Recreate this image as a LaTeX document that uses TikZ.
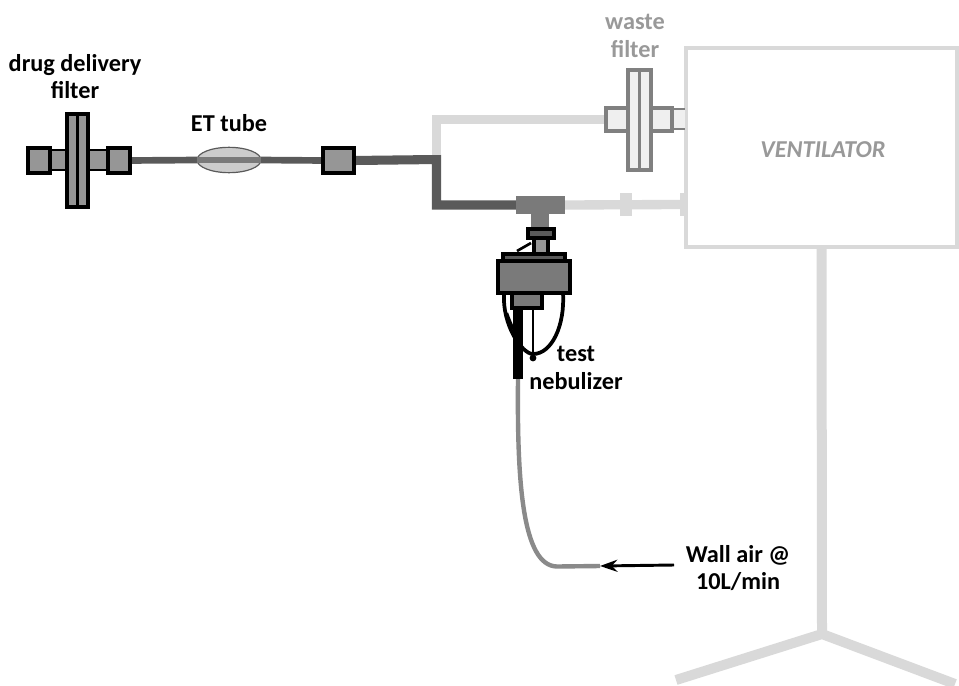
\documentclass[tikz,border=0pt]{standalone}
\usepackage{fontspec}
\setmainfont{Carlito}
\usetikzlibrary{arrows.meta,backgrounds,shapes.geometric}
\definecolor{lite}{HTML}{D9D9D9}
\definecolor{wgray}{HTML}{808080}
\definecolor{wfill}{HTML}{EFEFEF}
\definecolor{darkt}{HTML}{5A5A5A}
\definecolor{midt}{HTML}{7A7A7A}
\definecolor{fillg}{HTML}{969696}
\definecolor{wtext}{HTML}{999999}
\definecolor{hose}{HTML}{8A8A8A}
\newcommand\pbox[6]{%
  \pgfmathsetmacro\pw{(#4-#2)*0.75}\pgfmathsetmacro\ph{(#5-#3)*0.75}%
  \node[inner sep=0pt,outer sep=0pt,minimum width=\pw pt,minimum height=\ph pt,#6] (#1) at ({(#2+#4)/2},{(#3+#5)/2}) {};}
\tikzset{
  blk/.style={draw=black,line width=2.5pt,fill=fillg},
  wst/.style={draw=wgray,line width=2.4pt,fill=wfill},
  solidg/.style={fill=midt},
  litefill/.style={fill=lite},
  lbl/.style={font=\fontsize{18.2}{20.5}\selectfont\bfseries,align=center,text=black,inner sep=0pt},
  wlbl/.style={lbl,text=wtext},
  ltube/.style={draw=lite,line width=7pt},
  dtube/.style={draw=darkt,line width=5pt},
  mtube/.style={draw=darkt,line width=6.8pt},
  stand/.style={draw=lite,line width=7.5pt}
}
\begin{document}
\begin{tikzpicture}[x=0.75pt,y=-0.75pt]
\useasboundingbox (0,0) rectangle (959,685);
% ventilator
\pbox{vent}{686}{48}{957}{247}{draw=lite,line width=2.8pt,fill=white}
\node[font=\fontsize{18.2}{20}\selectfont\bfseries\itshape,text=wtext,inner sep=0pt] (ventlbl) at (823,150) {VENTILATOR};
\coordinate (hub) at (822,634);
\coordinate (legl) at (676,680);
\coordinate (legr) at (955,684);
% drug delivery filter
\pbox{dl2}{50}{150}{66}{170}{blk,line width=2pt}
\pbox{dr2}{89}{150}{108}{170}{blk,line width=2pt}
\pbox{dl1}{28}{148}{50}{173}{blk}
\pbox{dr1}{108}{148}{130}{173}{blk}
\pbox{dp1}{67}{114}{77.5}{207}{blk}
\pbox{dp2}{77.5}{114}{88}{207}{blk}
% ET tube and connector
\node[draw=darkt,line width=0.9pt,fill=lite!85!gray,ellipse,inner sep=0pt,outer sep=0pt,minimum width=48pt,minimum height=19pt] (et) at (229,160) {};
\pbox{conn}{323}{148}{354}{173}{blk}
% tee
\pbox{tee}{516}{196}{565}{214}{solidg}
\pbox{teestem}{531}{214}{549}{229}{solidg}
% waste filter
\pbox{wc}{671}{109}{685}{129}{fill=wfill}
\draw[draw=wgray,line width=2.2pt] (671,109) -- (685,109) (671,129) -- (685,129);
\pbox{wl}{606}{108}{629}{131}{wst}
\pbox{wr}{650}{108}{672}{131}{wst}
\pbox{wp1}{628}{70}{639.5}{170}{wst}
\pbox{wp2}{639.5}{70}{651}{170}{wst}
% light tube collars
\pbox{band}{620}{193}{632}{216}{litefill}
\pbox{collar}{680}{193}{686}{216}{litefill}
% nebulizer
\draw[black,line width=2.8pt] (504,293) .. controls (502,325) and (522,354) .. (533,354) .. controls (552,354) and (565,325) .. (563,293);
\draw[black,line width=1.8pt] (507,313) .. controls (510,322) and (516,335) .. (520,342);
\draw[black,line width=2pt] (517,251) -- (531,243);
\pbox{neck}{534}{237}{548}{254}{blk}
\pbox{cap}{528}{229}{554}{238}{blk,fill=darkt}
\pbox{lid}{503}{254}{565}{261}{blk,fill=darkt}
\pbox{body}{498}{261}{570}{293}{blk,fill=midt}
\pbox{bar}{513}{300}{523}{379}{fill=black}
\pbox{lower}{512}{293}{542}{308}{blk,fill=midt}
\draw[black,line width=1.5pt] (533,308) -- (533,357);
\fill[black] (533,358) circle (3.4);
% labels
\node[lbl] (dlbl) at (75,76.5) {drug delivery\\filter};
\node[lbl] (etlbl) at (229,123) {ET tube};
\node[wlbl] (wlbl) at (635,36) {waste\\filter};
\node[lbl] (nlbl) at (576,368) {test\\nebulizer};
\node[lbl] (airlbl) at (738,568) {Wall air @\\10L/min};
\coordinate (hoseend) at (600,566);
\coordinate (arrstart) at (674,565);
% connectors
\draw[draw=midt,line width=4.8pt] (et.west) -- (et.east);
\draw[-{Stealth[length=13pt,width=9pt]},line width=2.2pt,black] (arrstart) -- (hoseend);
\begin{scope}[on background layer]
\fill[white] (0,0) rectangle (959,685);
\draw[stand] (vent.south) -- (hub);
\draw[stand,line join=miter] (legl) -- (hub) -- (legr);
\draw[dtube] (dr1.east) -- (et.west);
\draw[dtube] (et.east) -- (conn.west);
\draw[mtube] (conn.east) -- (436.5,159.5) -- (436.5,205) -- (tee.west);
\draw[ltube] (436.5,155) -- (436.5,119.5) -- (wl.west);
\draw[ltube] (tee.east) -- (collar.west);
\draw[draw=hose,line width=3.3pt] (bar.south) .. controls (517,480) and (522,566) .. (557,566.5) -- (hoseend);
\end{scope}
\end{tikzpicture}
\end{document}
